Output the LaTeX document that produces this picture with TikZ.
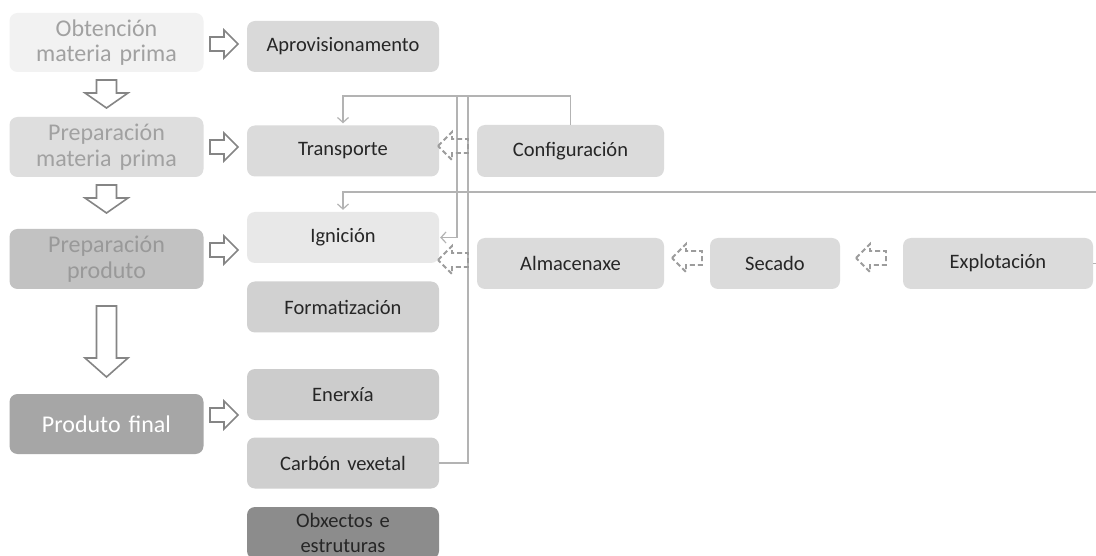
\documentclass[tikz,border=0pt]{standalone}
\usepackage{fontspec}
\setmainfont{Carlito}
\usetikzlibrary{arrows.meta}
\definecolor{lineg}{HTML}{B3B3B3}
\definecolor{arrg}{HTML}{858585}
\definecolor{dashg}{HTML}{9C9C9C}
\definecolor{txtd}{HTML}{262626}
\tikzset{
  box/.style={rounded corners=8pt, minimum width=192pt, minimum height=51pt, inner sep=0pt,
    text width=186pt, align=center, font=\fontsize{20.5}{25}\selectfont, text=txtd, fill=#1},
  lbox/.style={rounded corners=8pt, minimum width=194pt, minimum height=59pt, inner sep=0pt,
    text width=190pt, align=center, font=\fontsize{24}{25.5}\selectfont, fill=#1},
  blk/.style={draw=arrg, line width=1.6pt, fill=white, line join=miter},
  dsh/.style={draw=dashg, line width=1.8pt, dash pattern=on 5pt off 3pt},
  conn/.style={draw=lineg, line width=1.4pt},
  tip/.style={-{Straight Barb[length=5pt,width=11pt,line width=1.2pt]}}
}
\newcommand\rtarrow[2]{\draw[blk] (#1,#2-7) -- (#1+14,#2-7) -- (#1+14,#2-14) -- (#1+28,#2) -- (#1+14,#2+14) -- (#1+14,#2+7) -- (#1,#2+7) -- cycle;}
\newcommand\dnarrow[4]{\draw[blk] (#1-10,#2) -- (#1+10,#2) -- (#1+10,#2+#3) -- (#1+21.5,#2+#3) -- (#1,#2+#3+#4) -- (#1-21.5,#2+#3) -- (#1-10,#2+#3) -- cycle;}
\newcommand\lfarrow[2]{\draw[dsh] (#1,#2) -- (#1+14,#2-14) -- (#1+14,#2-7) -- (#1+30,#2-7) -- (#1+30,#2+7) -- (#1+14,#2+7) -- (#1+14,#2+14) -- cycle;}
\begin{document}
\begin{tikzpicture}[x=1pt,y=-1pt]
\useasboundingbox (0,0) rectangle (1096,556);
\clip (0,0) rectangle (1096,556);
\fill[white] (0,0) rectangle (1096,556);

% left column
\node[lbox={black!5}, text=black!37] (obt) at (106.5,42.5) {Obtención\\materia prima};
\node[lbox={black!13}, text=black!37, minimum height=60pt] (prepmp) at (106.5,147) {Preparación\\materia prima};
\node[lbox={black!24}, text=black!40, minimum height=60pt] (prepprod) at (106.5,259) {Preparación\\produto};
\node[lbox={black!35}, text=white, minimum height=60pt] (final) at (106.5,424) {Produto final};

% middle column
\node[box={black!15}] (aprov) at (343,46.5) {Aprovisionamento};
\node[box={black!14}] (transp) at (343,151) {Transporte};
\node[box={black!9}] (ign) at (343,237.5) {Ignición};
\node[box={black!18}] (form) at (343,307) {Formatización};
\node[box={black!20}] (ener) at (343,394.5) {Enerxía};
\node[box={black!19}] (carbon) at (343,463) {Carbón vexetal};
\node[box={black!45}, minimum height=52pt] (obx) at (343,533) {Obxectos e\\estruturas};

% right boxes
\node[box={black!14}, minimum width=187pt, text width=180pt, minimum height=52pt] (conf) at (570.5,151) {Configuración};
\node[box={black!14}, minimum width=187pt, text width=180pt] (alm) at (570.5,263.5) {Almacenaxe};
\node[box={black!14}, minimum width=130pt, text width=124pt] (sec) at (775,263.5) {Secado};
\node[box={black!14}, minimum width=190pt, text width=184pt] (expl) at (998,263.5) {Explotación};

% hollow block arrows
\rtarrow{210}{44}
\rtarrow{210}{147}
\rtarrow{210}{250}
\rtarrow{210}{415}
\dnarrow{106.5}{80}{13}{15}
\dnarrow{106.5}{185}{13}{15}
\dnarrow{106.5}{306}{52}{19}

% connectors
\coordinate (topA) at (457,96);
\coordinate (topB) at (468,96);
\coordinate (far) at (1130,192);
\draw[conn, tip, shorten >=2pt] (conf.north) |- (topA) -| (transp.north);
\draw[conn] (topA) -- (topB);
\draw[conn] (carbon.east) -| (topB);
\draw[conn, tip, shorten >=1pt] (topA) |- (ign.east);
\draw[conn, tip, shorten >=2pt] (expl.east) -| (far) -| (ign.north);

% dashed feedback arrows
\lfarrow{438}{146}
\lfarrow{438}{260}
\lfarrow{672}{258}
\lfarrow{856}{258}
\end{tikzpicture}
\end{document}
